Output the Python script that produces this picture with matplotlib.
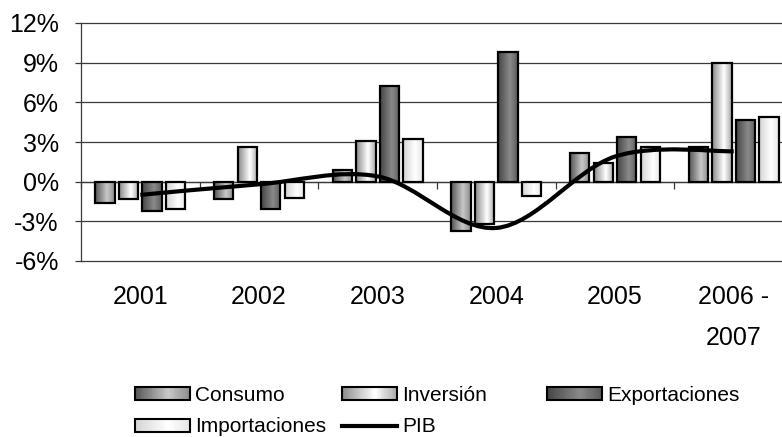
import numpy as np
import matplotlib
matplotlib.use("Agg")
import matplotlib.pyplot as plt
from matplotlib.colors import LinearSegmentedColormap
from matplotlib.patches import Rectangle, Patch, PathPatch
from matplotlib.path import Path
from matplotlib.lines import Line2D
from matplotlib.legend_handler import HandlerBase
from matplotlib.ticker import NullFormatter

plt.rcParams['font.family'] = ['Liberation Sans', 'DejaVu Sans']

# data (% growth)
years = ['2001', '2002', '2003', '2004', '2005', '2006 -\n2007']
consumo = [-1.6, -1.3, 0.9, -3.7, 2.2, 2.6]
inversion = [-1.3, 2.6, 3.1, -3.2, 1.4, 9.0]
exportaciones = [-2.2, -2.1, 7.2, 9.8, 3.4, 4.7]
importaciones = [-2.1, -1.2, 3.2, -1.1, 2.6, 4.9]
pib = [-1.0, -0.2, 0.4, -3.5, 1.9, 2.3]
yticks = [-6, -3, 0, 3, 6, 9, 12]

series = [
    ('Consumo', consumo, ['#555555', '#c8c8c8', '#8c8c8c']),
    ('Inversión', inversion, ['#8a8a8a', '#ffffff', '#a8a8a8']),
    ('Exportaciones', exportaciones, ['#454545', '#8a8a8a', '#5c5c5c']),
    ('Importaciones', importaciones, ['#d4d4d4', '#ffffff', '#e6e6e6']),
]

W, H = 782, 437
fig = plt.figure(figsize=(W / 100, H / 100), dpi=100)
ax = fig.add_axes([81 / W, (H - 261) / H, 712 / W, 238 / H])

x = np.arange(len(years))
step = 0.198
bw = 0.164
grad = np.linspace(0, 1, 64).reshape(1, -1)
for k, (name, vals, cols) in enumerate(series):
    cmap = LinearSegmentedColormap.from_list(name, list(zip([0, 0.6, 1], cols)))
    bars = ax.bar(x + (k - 1.5) * step, vals, bw, facecolor='none',
                  edgecolor='black', linewidth=1.6, zorder=3)
    for b in bars:
        x0, x1 = b.get_x(), b.get_x() + b.get_width()
        y0, y1 = sorted([b.get_y(), b.get_y() + b.get_height()])
        im = ax.imshow(grad, extent=[x0, x1, y0, y1], aspect='auto', cmap=cmap,
                       zorder=2, interpolation='bilinear')
        im.set_clip_path(b)

# smoothed PIB line (bezier through the points)
pts = np.column_stack([x, pib]).astype(float)
ext = np.vstack([pts[0], pts, pts[-1]])
verts = [tuple(pts[0])]
codes = [Path.MOVETO]
for i in range(len(pts) - 1):
    p0, p1, p2, p3 = ext[i], ext[i + 1], ext[i + 2], ext[i + 3]
    c1 = p1 + (p2 - p0) / 6
    c2 = p2 - (p3 - p1) / 6
    verts += [tuple(c1), tuple(c2), tuple(p2)]
    codes += [Path.CURVE4] * 3
ax.add_patch(PathPatch(Path(verts, codes), facecolor='none', edgecolor='black',
                       linewidth=3, zorder=5, capstyle='butt'))

ax.set_xlim(-0.5, len(years) - 0.5)
ax.set_ylim(-6, 12)
ax.set_yticks(yticks, [f'{v}%' for v in yticks])
ax.yaxis.grid(True, color='#3a3a3a', linewidth=0.9)
for gl in ax.get_ygridlines():
    gl.set_clip_on(False)
ax.set_axisbelow(True)
ax.tick_params(axis='y', length=4, width=0.9, color='#3a3a3a', pad=12, labelsize=18)
ax.set_xticks(x, years)
ax.tick_params(axis='x', length=0, pad=17, labelsize=18)
for lab in ax.get_xticklabels():
    lab.set_linespacing(1.9)
for s in ['top', 'right', 'bottom']:
    ax.spines[s].set_visible(False)
ax.spines['left'].set_color('#3a3a3a')
ax.spines['left'].set_linewidth(0.9)

# category axis crossing at 0
sec = ax.secondary_xaxis(6 / 18)
sec.set_xticks(np.arange(-0.5, len(years), 1.0))
sec.xaxis.set_ticks_position('bottom')
sec.xaxis.set_major_formatter(NullFormatter())
sec.tick_params(length=5, width=0.9, color='#3a3a3a')
sec.spines['bottom'].set_visible(True)
sec.spines['bottom'].set_color('#3a3a3a')
sec.spines['bottom'].set_linewidth(0.9)
sec.spines['top'].set_visible(False)


class GradHandler(HandlerBase):
    def __init__(self, cols):
        super().__init__()
        self.cmap = LinearSegmentedColormap.from_list('h', list(zip([0, 0.6, 1], cols)))

    def create_artists(self, legend, orig_handle, xdescent, ydescent, width,
                       height, fontsize, trans):
        out = []
        n = 30
        for j in range(n):
            out.append(Rectangle((-xdescent + width * j / n, -ydescent),
                                 width / n * 1.1, height,
                                 facecolor=self.cmap((j + 0.5) / n),
                                 edgecolor='none', transform=trans))
        out.append(Rectangle((-xdescent, -ydescent), width, height, fill=False,
                             edgecolor='black', linewidth=1.5, transform=trans))
        return out


handles = {name: Patch(label=name) for name, _, _ in series}
hmap = {handles[name]: GradHandler(cols) for name, _, cols in series}
pib_h = Line2D([], [], color='black', linewidth=3, label='PIB')
columns = [(135, ['Consumo', 'Importaciones']),
           (342, ['Inversión', 'PIB']),
           (547, ['Exportaciones'])]
for xl, names in columns:
    hs = [pib_h if n == 'PIB' else handles[n] for n in names]
    fig.legend(handles=hs, labels=names, handler_map=hmap, loc='upper left',
               bbox_to_anchor=(xl / W, (H - 386) / H), frameon=False,
               borderpad=0, borderaxespad=0, fontsize=15, handlelength=2.64,
               handleheight=0.6, handletextpad=0.25, labelspacing=0.6)

fig.savefig('out.png', dpi=100)
